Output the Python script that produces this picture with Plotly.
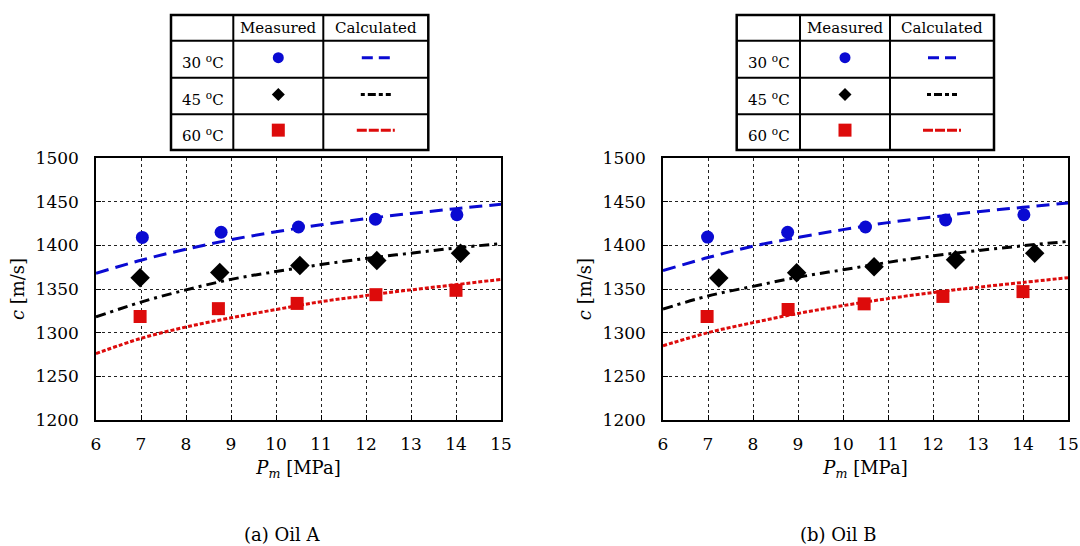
import plotly.graph_objects as go

# ---------------- data ----------------
P_curve = [6, 7, 8, 9, 10, 11, 12, 13, 14, 15]

# Oil A
a_meas_P_30 = [7.03, 8.78, 10.50, 12.21, 14.02]
a_meas_c_30 = [1409, 1415, 1421, 1430, 1435]
a_meas_P_45 = [6.98, 8.75, 10.53, 12.24, 14.10]
a_meas_c_45 = [1363, 1369, 1377, 1382.5, 1391]
a_meas_P_60 = [6.98, 8.72, 10.47, 12.22, 14.00]
a_meas_c_60 = [1318.5, 1327.5, 1333.5, 1343.5, 1348.5]
a_calc_30 = [1368, 1383, 1395.5, 1406.5, 1415.5, 1423.5, 1430.5, 1436.5, 1442, 1447]
a_calc_45 = [1318, 1335, 1349, 1361, 1370, 1378, 1385, 1391, 1397, 1402]
a_calc_60 = [1276, 1293.5, 1306.5, 1317, 1326.5, 1335.5, 1342.5, 1349, 1355, 1361]

# Oil B
b_meas_P_30 = [6.99, 8.77, 10.50, 12.28, 14.02]
b_meas_c_30 = [1409.5, 1415, 1421, 1429, 1435]
b_meas_P_45 = [7.24, 8.97, 10.69, 12.50, 14.26]
b_meas_c_45 = [1362.5, 1368.5, 1375.5, 1383.5, 1391]
b_meas_P_60 = [6.98, 8.78, 10.47, 12.22, 14.00]
b_meas_c_60 = [1318.5, 1326.5, 1333, 1341.5, 1347]
b_calc_30 = [1371, 1386, 1399, 1409, 1418, 1426, 1432.5, 1438.5, 1443.5, 1448.5]
b_calc_45 = [1327, 1342, 1353, 1363.5, 1372, 1380.5, 1388, 1394, 1399.5, 1404.5]
b_calc_60 = [1285, 1300, 1311.5, 1322, 1331, 1339, 1346, 1352, 1357.5, 1363]

x_ticks = [6, 7, 8, 9, 10, 11, 12, 13, 14, 15]
y_ticks = [1200, 1250, 1300, 1350, 1400, 1450, 1500]
row_labels = ["30 <sup>o</sup>C", "45 <sup>o</sup>C", "60 <sup>o</sup>C"]
headers = ["Measured", "Calculated"]
captions = ["(a) Oil A", "(b) Oil B"]
x_title = "<i>P</i><sub><i>m</i></sub> [MPa]"
y_title = "<i>c</i> [m/s]"

# ---------------- styles ----------------
W, H = 1080, 546
BLUE = "#0a0ad2"
RED = "#dd0b0b"
BLACK = "#000000"
FONT = "DejaVu Serif"
DASH_BLUE = "13px,7px"
DASH_BLACK = "10px,5px,3px,5px"
DASH_RED = "4px,2px"

def px(x):
    return x / W

def py(y):
    return 1 - y / H

fig = go.Figure()

sets = [
    ("x", "y", a_meas_P_30, a_meas_c_30, a_meas_P_45, a_meas_c_45, a_meas_P_60, a_meas_c_60,
     a_calc_30, a_calc_45, a_calc_60),
    ("x2", "y2", b_meas_P_30, b_meas_c_30, b_meas_P_45, b_meas_c_45, b_meas_P_60, b_meas_c_60,
     b_calc_30, b_calc_45, b_calc_60),
]
for xa, ya, p30, c30, p45, c45, p60, c60, k30, k45, k60 in sets:
    fig.add_trace(go.Scatter(x=P_curve, y=k30, mode="lines", line=dict(color=BLUE, width=3, dash=DASH_BLUE, shape="spline"),
                             xaxis=xa, yaxis=ya, showlegend=False))
    fig.add_trace(go.Scatter(x=P_curve, y=k45, mode="lines", line=dict(color=BLACK, width=3, dash=DASH_BLACK, shape="spline"),
                             xaxis=xa, yaxis=ya, showlegend=False))
    fig.add_trace(go.Scatter(x=P_curve, y=k60, mode="lines", line=dict(color=RED, width=3, dash=DASH_RED, shape="spline"),
                             xaxis=xa, yaxis=ya, showlegend=False))
    fig.add_trace(go.Scatter(x=p30, y=c30, mode="markers", marker=dict(symbol="circle", size=13, color=BLUE),
                             xaxis=xa, yaxis=ya, showlegend=False))
    fig.add_trace(go.Scatter(x=p45, y=c45, mode="markers", marker=dict(symbol="diamond", size=15, color=BLACK),
                             xaxis=xa, yaxis=ya, showlegend=False))
    fig.add_trace(go.Scatter(x=p60, y=c60, mode="markers", marker=dict(symbol="square", size=13, color=RED),
                             xaxis=xa, yaxis=ya, showlegend=False))

axis_common = dict(
    showline=True, mirror=True, linecolor="black", linewidth=1.5,
    showgrid=True, gridcolor="#222222", gridwidth=1, griddash="dot",
    zeroline=False, ticks="inside", ticklen=5, tickcolor="black",
    tickfont=dict(family=FONT, size=17, color="black"),
    automargin=False, ticklabeloverflow="allow",
)

TITLE_FONT = dict(family=FONT, size=18, color="black")
y_top, y_bot = 158, 420
fig.update_layout(
    width=W, height=H,
    margin=dict(l=0, r=0, t=0, b=0, pad=0),
    paper_bgcolor="white", plot_bgcolor="white",
    font=dict(family=FONT, color="black"),
    xaxis=dict(domain=[px(96), px(501)], range=[6, 15], tickvals=x_ticks, anchor="y",
               ticklabelstandoff=8,
               title=dict(text=x_title, font=TITLE_FONT, standoff=8), **axis_common),
    yaxis=dict(domain=[py(y_bot), py(y_top)], range=[1200, 1500], tickvals=y_ticks, anchor="x",
               ticklabelstandoff=12,
               title=dict(text=y_title, font=TITLE_FONT, standoff=6), **axis_common),
    xaxis2=dict(domain=[px(663), px(1068)], range=[6, 15], tickvals=x_ticks, anchor="y2",
                ticklabelstandoff=8,
                title=dict(text=x_title, font=TITLE_FONT, standoff=8), **axis_common),
    yaxis2=dict(domain=[py(y_bot), py(y_top)], range=[1200, 1500], tickvals=y_ticks, anchor="x2",
                ticklabelstandoff=12,
                title=dict(text=y_title, font=TITLE_FONT, standoff=6), **axis_common),
)

shapes = []
annotations = []

def add_table(x0, xc1, xc2, x1):
    yt, r1, r2, r3, yb = 15, 40.7, 77.7, 114.3, 150
    lw = 2
    shapes.append(dict(type="rect", xref="paper", yref="paper", x0=px(x0), x1=px(x1), y0=py(yb), y1=py(yt),
                       line=dict(color="black", width=2.5), fillcolor="white", layer="above"))
    for yy in (r1, r2, r3):
        shapes.append(dict(type="line", xref="paper", yref="paper", x0=px(x0), x1=px(x1), y0=py(yy), y1=py(yy),
                           line=dict(color="black", width=lw)))
    for xx in (xc1, xc2):
        shapes.append(dict(type="line", xref="paper", yref="paper", x0=px(xx), x1=px(xx), y0=py(yt), y1=py(yb),
                           line=dict(color="black", width=lw)))
    for text, cx in zip(headers, [(xc1 + xc2) / 2, (xc2 + x1) / 2]):
        annotations.append(dict(text=text, x=px(cx), y=py(28), xref="paper", yref="paper", showarrow=False,
                                xanchor="center", yanchor="middle", font=dict(family=FONT, size=15, color="black")))
    rows_y = [(r1 + r2) / 2, (r2 + r3) / 2, (r3 + yb) / 2]
    for text, ry in zip(row_labels, rows_y):
        annotations.append(dict(text=text, x=px((x0 + xc1) / 2 + 1), y=py(ry + 3), xref="paper", yref="paper",
                                showarrow=False, xanchor="center", yanchor="middle",
                                font=dict(family=FONT, size=15, color="black")))
    mx = (xc1 + xc2) / 2
    lx = (xc2 + x1) / 2
    r = 5.5
    shapes.append(dict(type="circle", xref="paper", yref="paper", x0=px(mx - r), x1=px(mx + r),
                       y0=py(rows_y[0] - 1.5 + r), y1=py(rows_y[0] - 1.5 - r), fillcolor=BLUE, line=dict(width=0)))
    d = 6.5
    cy = rows_y[1] - 1.5
    shapes.append(dict(type="path", xref="paper", yref="paper",
                       path=f"M {px(mx)},{py(cy - d)} L {px(mx + d)},{py(cy)} L {px(mx)},{py(cy + d)} L {px(mx - d)},{py(cy)} Z",
                       fillcolor=BLACK, line=dict(width=0)))
    s = 6.5
    cy = rows_y[2] - 2
    shapes.append(dict(type="rect", xref="paper", yref="paper", x0=px(mx - s), x1=px(mx + s),
                       y0=py(cy + s), y1=py(cy - s), fillcolor=RED, line=dict(width=0)))
    shapes.append(dict(type="line", xref="paper", yref="paper", x0=px(lx - 14), x1=px(lx + 14),
                       y0=py(rows_y[0] - 1.5), y1=py(rows_y[0] - 1.5), line=dict(color=BLUE, width=3, dash="11px,6px")))
    shapes.append(dict(type="line", xref="paper", yref="paper", x0=px(lx - 15), x1=px(lx + 15),
                       y0=py(rows_y[1] - 1.5), y1=py(rows_y[1] - 1.5), line=dict(color=BLACK, width=3, dash="4px,3px,8px,3px")))
    shapes.append(dict(type="line", xref="paper", yref="paper", x0=px(lx - 19), x1=px(lx + 19),
                       y0=py(rows_y[2] - 2), y1=py(rows_y[2] - 2), line=dict(color=RED, width=3, dash="10px,2px")))

add_table(171, 233.3, 323.3, 428.3)
add_table(736.7, 800, 890, 994)

for text, cx in zip(captions, [282, 838]):
    annotations.append(dict(text=text, x=px(cx), y=py(534), xref="paper", yref="paper", showarrow=False,
                            xanchor="center", yanchor="middle", font=dict(family=FONT, size=18, color="black")))

fig.update_layout(shapes=shapes, annotations=annotations)
fig.write_html("out.html", config={"displayModeBar": False},
               post_script="document.body.style.margin='0px';document.body.style.overflow='hidden';")
